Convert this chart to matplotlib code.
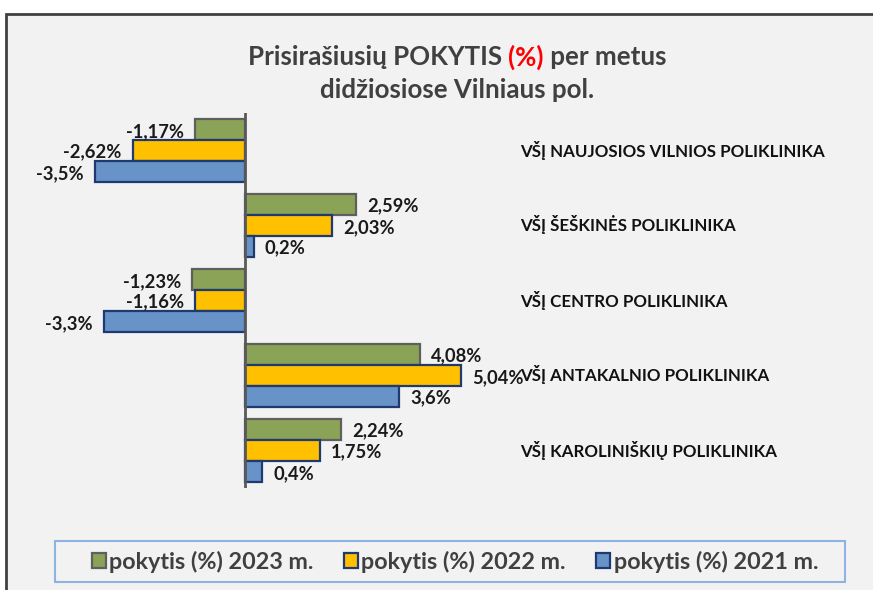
import matplotlib
matplotlib.use("Agg")
import matplotlib.pyplot as plt
from matplotlib.patches import Rectangle
import numpy as np

categories = [
    "VŠĮ NAUJOSIOS VILNIOS POLIKLINIKA",
    "VŠĮ ŠEŠKINĖS POLIKLINIKA",
    "VŠĮ CENTRO POLIKLINIKA",
    "VŠĮ ANTAKALNIO POLIKLINIKA",
    "VŠĮ KAROLINIŠKIŲ POLIKLINIKA",
]
pokytis_2023 = [-1.17, 2.59, -1.23, 4.08, 2.24]
pokytis_2022 = [-2.62, 2.03, -1.16, 5.04, 1.75]
pokytis_2021 = [-3.5, 0.2, -3.3, 3.6, 0.4]
series_names = ["pokytis (%) 2023 m.", "pokytis (%) 2022 m.", "pokytis (%) 2021 m."]
decimals = [2, 2, 1]

FONT = ["Lato", "DejaVu Sans"]
plt.rcParams['font.family'] = FONT

W, H = 873, 590
fig = plt.figure(figsize=(W / 100, H / 100), dpi=100, facecolor="white")

# outer chart frame
fig.patches.append(Rectangle((6 / W, -0.05), 1.1, (H - 14) / H + 0.05, transform=fig.transFigure,
                             facecolor="#f2f2f2", edgecolor="#404040", linewidth=2, zorder=-5))

# axes geometry: x scale 42.86 px/unit, zero at px 245
pxu = 42.86
ax_left_px, ax_right_px = 20, 860
xmin = (ax_left_px - 245) / pxu
xmax = (ax_right_px - 245) / pxu
top_px, bot_px = 112.5, 487.5
ax = fig.add_axes([ax_left_px / W, 1 - bot_px / H, (ax_right_px - ax_left_px) / W, (bot_px - top_px) / H])
ax.set_facecolor("none")
ax.set_zorder(2)
ax.set_xlim(xmin, xmax)
ax.set_ylim(len(categories) - 0.5, -0.5)

y = np.arange(len(categories))
bh = 0.28
facecolors = ["#8ba356", "#ffc000", "#6893c8"]
edgecolors = ["#5f5f5f", "#1f3a6e", "#1f3a6e"]
series = [pokytis_2023, pokytis_2022, pokytis_2021]
offsets = [-bh, 0, bh]
handles = []
gap = 11 / pxu
for vals, off, fc, ec, name, dec in zip(series, offsets, facecolors, edgecolors, series_names, decimals):
    bars = ax.barh(y + off, vals, height=bh, color=fc, edgecolor=ec, linewidth=1.6, label=name, zorder=3)
    handles.append(bars)
    for yi, v in zip(y + off, vals):
        s = f"{v:.{dec}f}".replace(".", ",") + "%"
        if v < 0:
            ax.text(v - gap, yi + 0.03, s, ha="right", va="center", fontsize=13.2,
                    fontweight="bold", color="#1a1a1a", zorder=4)
        else:
            ax.text(v + gap, yi + 0.03, s, ha="left", va="center", fontsize=13.2,
                    fontweight="bold", color="#1a1a1a", zorder=4)

for yi, c in zip(y, categories):
    ax.text((520 - 245) / pxu, yi, c, ha="left", va="center", fontsize=12.2,
            fontweight="bold", color="#111111", zorder=4)

ax.axvline(0, color="#595959", linewidth=2, zorder=5)
for sp in ax.spines.values():
    sp.set_visible(False)
ax.set_xticks([])
ax.set_yticks([])

# title with red "(%)"
fig.canvas.draw()
r = fig.canvas.get_renderer()
tcol = "#404040"
tfs = 18.6
parts = [("Prisirašiusių POKYTIS ", tcol), ("(%)", "#ff0000"), (" per metus", tcol)]
texts = []
for s, c in parts:
    t = fig.text(0, 1 - 57 / H, s, color=c, fontsize=tfs, fontweight="bold", ha="left", va="center")
    texts.append(t)
widths = [t.get_window_extent(r).width for t in texts]
total = sum(widths)
x0 = 457 - total / 2
for t, w in zip(texts, widths):
    t.set_x(x0 / W)
    x0 += w
fig.text(457 / W, 1 - 90 / H, "didžiosiose Vilniaus pol.", color=tcol, fontsize=tfs,
         fontweight="bold", ha="center", va="center")

# legend frame drawn separately
fig.patches.append(Rectangle((55 / W, 1 - 582 / H), 790 / W, 41 / H, transform=fig.transFigure,
                             facecolor="#f2f2f2", edgecolor="#8db3e2", linewidth=1.5, zorder=-4))
leg = fig.legend(handles=handles, labels=series_names, loc="center",
                 bbox_to_anchor=(455 / W, 1 - 561.5 / H), ncol=3, frameon=False,
                 prop={"size": 16.8, "weight": "bold"},
                 handlelength=0.6, handleheight=0.65, handletextpad=0.15,
                 columnspacing=1.3, borderpad=0.4, borderaxespad=0)
for t in leg.get_texts():
    t.set_color("#404040")

fig.savefig("out.png", dpi=100, facecolor="white")
